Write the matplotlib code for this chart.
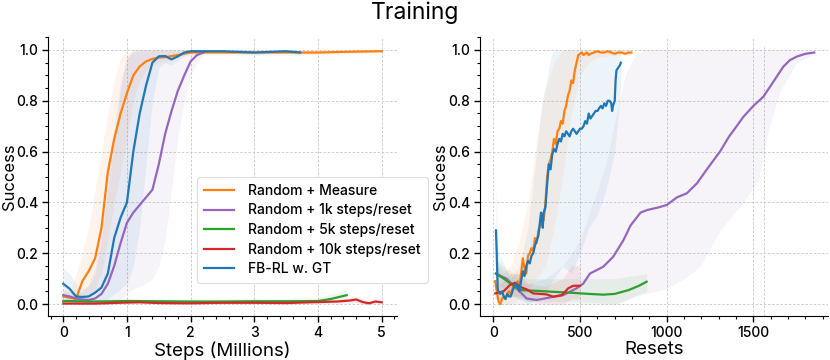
import matplotlib
matplotlib.use("Agg")
import matplotlib.pyplot as plt
from matplotlib.ticker import MultipleLocator

plt.rcParams['font.family'] = ['Inter', 'DejaVu Sans']
plt.rcParams['font.weight'] = 'medium'

# ---------------- colours / labels ----------------
labels = ["Random + Measure", "Random + 1k steps/reset", "Random + 5k steps/reset",
          "Random + 10k steps/reset", "FB-RL w. GT"]
colors = ["#ff7f0e", "#9467bd", "#2ca02c", "#d62728", "#1f77b4"]

# ---------------- LEFT: Steps (Millions) ----------------
orange_L_x = [0, 0.1, 0.2, 0.3, 0.4, 0.5, 0.6, 0.7, 0.8, 0.9, 1.0, 1.1, 1.2, 1.3, 1.4, 1.5, 1.6, 1.8, 2.0, 2.2, 2.5, 3.0, 3.5, 4.0, 4.5, 5.0]
orange_L_y = [0.03, 0.025, 0.02, 0.09, 0.13, 0.18, 0.30, 0.52, 0.65, 0.75, 0.83, 0.90, 0.935, 0.955, 0.965, 0.97, 0.972, 0.98, 0.99, 0.99, 0.99, 0.99, 0.99, 0.99, 0.993, 0.995]
orange_L_up = [0.05, 0.05, 0.12, 0.2, 0.3, 0.45, 0.6, 0.75, 0.88, 0.97, 0.99, 1.0, 1.0, 1.0, 1.0, 1.0, 1.0, 1.0, 1.0, 1.0, 1.0, 1.0, 1.0, 1.0, 1.0, 1.0]
orange_L_lo = [0.01, 0.01, 0.01, 0.02, 0.03, 0.06, 0.12, 0.25, 0.4, 0.52, 0.65, 0.8, 0.88, 0.92, 0.94, 0.95, 0.955, 0.97, 0.98, 0.98, 0.98, 0.98, 0.98, 0.98, 0.985, 0.99]

purple_L_x = [0, 0.1, 0.2, 0.3, 0.4, 0.5, 0.6, 0.7, 0.8, 0.9, 1.0, 1.1, 1.2, 1.3, 1.4, 1.5, 1.6, 1.7, 1.8, 1.9, 2.0, 2.1, 2.2]
purple_L_y = [0.035, 0.03, 0.022, 0.018, 0.016, 0.022, 0.04, 0.08, 0.15, 0.24, 0.32, 0.36, 0.39, 0.42, 0.45, 0.55, 0.67, 0.76, 0.84, 0.90, 0.955, 0.98, 0.99]
purple_L_up = [0.06, 0.05, 0.04, 0.05, 0.08, 0.15, 0.3, 0.5, 0.7, 0.88, 0.97, 0.99, 1.0, 1.0, 1.0, 1.0, 1.0, 1.0, 1.0, 1.0, 1.0, 1.0, 1.0]
purple_L_lo = [0.01, 0.005, 0.0, 0.0, 0.0, 0.0, 0.0, 0.0, 0.01, 0.02, 0.04, 0.06, 0.07, 0.08, 0.1, 0.15, 0.25, 0.45, 0.65, 0.8, 0.9, 0.95, 0.98]

green_L_x = [0, 0.5, 1.0, 1.5, 2.0, 2.5, 3.0, 3.5, 4.0, 4.2, 4.45]
green_L_y = [0.012, 0.01, 0.012, 0.011, 0.01, 0.01, 0.011, 0.011, 0.012, 0.02, 0.035]
green_L_up = [0.02, 0.018, 0.022, 0.02, 0.02, 0.022, 0.022, 0.022, 0.025, 0.04, 0.055]
green_L_lo = [0.004, 0.003, 0.004, 0.004, 0.003, 0.003, 0.004, 0.004, 0.004, 0.006, 0.015]

red_L_x = [0, 0.5, 1.0, 1.2, 1.5, 2.0, 2.5, 3.0, 3.5, 4.0, 4.3, 4.5, 4.6, 4.7, 4.8, 4.9, 5.0]
red_L_y = [0.002, 0.002, 0.006, 0.007, 0.004, 0.003, 0.005, 0.005, 0.004, 0.008, 0.010, 0.014, 0.018, 0.008, 0.003, 0.010, 0.007]
red_L_up = [0.006, 0.006, 0.012, 0.013, 0.009, 0.008, 0.01, 0.01, 0.009, 0.014, 0.018, 0.025, 0.03, 0.018, 0.01, 0.022, 0.015]
red_L_lo = [0.0, 0.0, 0.001, 0.002, 0.0, 0.0, 0.0, 0.0, 0.0, 0.002, 0.003, 0.004, 0.006, 0.0, 0.0, 0.0, 0.0]

blue_L_x = [0, 0.1, 0.2, 0.3, 0.4, 0.5, 0.6, 0.7, 0.8, 0.9, 1.0, 1.1, 1.2, 1.3, 1.4, 1.5, 1.6, 1.7, 1.8, 1.9, 2.0, 2.2, 2.5, 3.0, 3.5, 3.72]
blue_L_y = [0.08, 0.06, 0.03, 0.028, 0.03, 0.045, 0.065, 0.12, 0.26, 0.34, 0.40, 0.60, 0.75, 0.86, 0.95, 0.975, 0.976, 0.963, 0.975, 0.99, 0.995, 0.995, 0.995, 0.99, 0.995, 0.99]
blue_L_up = [0.14, 0.12, 0.08, 0.06, 0.07, 0.12, 0.25, 0.45, 0.65, 0.85, 0.97, 1.0, 1.0, 1.0, 1.0, 1.0, 1.0, 1.0, 1.0, 1.0, 1.0, 1.0, 1.0, 1.0, 1.0, 1.0]
blue_L_lo = [0.03, 0.01, 0.0, 0.0, 0.0, 0.0, 0.01, 0.02, 0.04, 0.06, 0.08, 0.15, 0.3, 0.55, 0.8, 0.93, 0.95, 0.94, 0.96, 0.98, 0.99, 0.99, 0.99, 0.98, 0.99, 0.98]

# ---------------- RIGHT: Resets ----------------
orange_R_x = [10, 20, 30, 40, 50, 60, 70, 80, 90, 100, 110, 120, 130, 140, 150, 160, 170, 180, 190, 200,
              210, 220, 230, 240, 250, 260, 270, 280, 290, 300, 310, 320, 330, 340, 350, 360, 370, 380, 390, 400,
              410, 420, 430, 440, 450, 460, 470, 480, 490, 500, 510, 520, 530, 540, 550, 560, 580, 600, 620, 640,
              660, 680, 700, 720, 740, 760, 780, 796]
orange_R_y = [0.09, 0.05, 0.01, 0.0, 0.02, 0.03, 0.02, 0.04, 0.05, 0.04, 0.06, 0.08, 0.06, 0.09, 0.07, 0.12, 0.18, 0.14, 0.12, 0.19,
              0.20, 0.22, 0.21, 0.26, 0.24, 0.29, 0.31, 0.35, 0.33, 0.39, 0.50, 0.55, 0.57, 0.60, 0.65, 0.63, 0.68, 0.69, 0.72, 0.71,
              0.76, 0.78, 0.82, 0.84, 0.88, 0.87, 0.92, 0.95, 0.98, 0.985, 0.99, 0.98, 0.985, 0.99, 0.98, 0.985, 0.99, 0.995, 0.99, 0.99,
              0.995, 0.99, 0.985, 0.99, 0.99, 0.985, 0.99, 0.99]
orange_R_bx = [10, 50, 100, 150, 200, 250, 300, 350, 400, 450, 500, 550, 600, 700, 796]
orange_R_up = [0.2, 0.12, 0.15, 0.25, 0.4, 0.65, 0.85, 0.95, 1.0, 1.0, 1.0, 1.0, 1.0, 1.0, 1.0]
orange_R_lo = [0.02, 0.0, 0.0, 0.02, 0.05, 0.1, 0.15, 0.3, 0.5, 0.75, 0.9, 0.95, 0.97, 0.98, 0.98]

purple_R_x = [15, 76, 134, 192, 249, 326, 403, 480, 518, 557, 634, 691, 749, 792, 849, 887, 950, 1000, 1059, 1116,
              1174, 1231, 1307, 1360, 1403, 1442, 1500, 1557, 1610, 1672, 1710, 1750, 1800, 1851]
purple_R_y = [0.12, 0.10, 0.062, 0.022, 0.016, 0.026, 0.035, 0.062, 0.08, 0.12, 0.147, 0.186, 0.25, 0.31, 0.36, 0.37, 0.38, 0.39, 0.42, 0.436,
              0.475, 0.53, 0.60, 0.66, 0.70, 0.737, 0.78, 0.816, 0.87, 0.934, 0.96, 0.974, 0.985, 0.99]
purple_R_bx = [15, 100, 200, 300, 400, 450, 500, 550, 600, 650, 700, 760, 820, 870, 1000, 1100, 1192, 1307, 1442, 1529, 1586, 1654, 1750, 1851]
purple_R_up = [0.15, 0.12, 0.08, 0.1, 0.15, 0.2, 0.25, 0.35, 0.45, 0.55, 0.72, 0.9, 0.98, 1.0, 1.0, 1.0, 1.0, 1.0, 1.0, 1.0, 1.0, 1.0, 1.0, 0.995]
purple_R_lo = [0.08, 0.04, 0.0, 0.0, 0.0, 0.0, 0.0, 0.0, 0.0, 0.0, 0.0, 0.01, 0.03, 0.04, 0.062, 0.1, 0.147, 0.29, 0.40, 0.49, 0.685, 0.84, 0.95, 0.985]

green_R_x = [15, 60, 120, 160, 250, 350, 441, 550, 634, 700, 780, 840, 884]
green_R_y = [0.12, 0.10, 0.07, 0.055, 0.052, 0.048, 0.045, 0.04, 0.037, 0.04, 0.055, 0.072, 0.088]
green_R_bx = [15, 100, 200, 500, 700, 884]
green_R_up = [0.17, 0.13, 0.1, 0.1, 0.1, 0.12]
green_R_lo = [0.07, 0.03, 0.01, 0.01, 0.0, 0.05]

red_R_x = [11, 57, 96, 125, 153, 192, 230, 307, 345, 394, 432, 461, 499]
red_R_y = [0.042, 0.049, 0.075, 0.084, 0.068, 0.058, 0.042, 0.038, 0.029, 0.035, 0.062, 0.072, 0.072]
red_R_bx = [11, 100, 150, 200, 300, 400, 450, 499]
red_R_up = [0.06, 0.12, 0.12, 0.08, 0.07, 0.1, 0.15, 0.15]
red_R_lo = [0.02, 0.03, 0.03, 0.01, 0.0, 0.0, 0.02, 0.02]

blue_R_x = [15, 20, 25, 30, 40, 50, 60, 70, 80, 90, 100, 110, 120, 130, 140, 150, 160, 170, 180, 190,
            200, 210, 220, 230, 240, 250, 260, 270, 275, 280, 285, 290, 300, 310, 320, 330, 340, 350, 360, 370,
            380, 390, 400, 410, 420, 430, 440, 450, 460, 470, 480, 490, 500, 510, 520, 530, 540, 550, 560, 570,
            580, 590, 600, 610, 620, 630, 640, 650, 660, 670, 680, 685, 690, 700, 705, 710, 720, 730, 735]
blue_R_y = [0.29, 0.19, 0.06, 0.05, 0.04, 0.05, 0.03, 0.02, 0.04, 0.03, 0.03, 0.05, 0.07, 0.08, 0.07, 0.05, 0.09, 0.13, 0.11, 0.15,
            0.17, 0.16, 0.19, 0.20, 0.23, 0.25, 0.27, 0.33, 0.36, 0.34, 0.30, 0.36, 0.38, 0.47, 0.55, 0.53, 0.59, 0.61, 0.60, 0.63,
            0.65, 0.64, 0.67, 0.66, 0.68, 0.67, 0.66, 0.68, 0.69, 0.68, 0.67, 0.68, 0.69, 0.69, 0.70, 0.72, 0.71, 0.75, 0.73, 0.74,
            0.75, 0.76, 0.76, 0.77, 0.78, 0.77, 0.79, 0.78, 0.80, 0.80, 0.79, 0.76, 0.78, 0.80, 0.88, 0.92, 0.93, 0.94, 0.95]
blue_R_bx = [15, 30, 100, 150, 200, 250, 280, 300, 330, 350, 400, 450, 500, 550, 600, 650, 700, 735]
blue_R_up = [0.45, 0.2, 0.1, 0.15, 0.3, 0.6, 0.8, 0.85, 0.97, 1.0, 1.0, 1.0, 1.0, 1.0, 1.0, 1.0, 1.0, 1.0]
blue_R_lo = [0.1, 0.0, 0.0, 0.0, 0.0, 0.02, 0.04, 0.05, 0.08, 0.1, 0.15, 0.12, 0.2, 0.3, 0.35, 0.45, 0.6, 0.85]

extra_grid_x = 1558

# ---------------- figure ----------------
fig = plt.figure(figsize=(8.3, 3.6), dpi=100)
axL = fig.add_axes([0.0578, 0.1222, 0.4205, 0.775])
axR = fig.add_axes([0.5783, 0.1222, 0.4193, 0.775])

left_series = [
    (orange_L_x, orange_L_y, orange_L_x, orange_L_lo, orange_L_up),
    (purple_L_x, purple_L_y, purple_L_x, purple_L_lo, purple_L_up),
    (green_L_x, green_L_y, green_L_x, green_L_lo, green_L_up),
    (red_L_x, red_L_y, red_L_x, red_L_lo, red_L_up),
    (blue_L_x, blue_L_y, blue_L_x, blue_L_lo, blue_L_up),
]
right_series = [
    (orange_R_x, orange_R_y, orange_R_bx, orange_R_lo, orange_R_up),
    (purple_R_x, purple_R_y, purple_R_bx, purple_R_lo, purple_R_up),
    (green_R_x, green_R_y, green_R_bx, green_R_lo, green_R_up),
    (red_R_x, red_R_y, red_R_bx, red_R_lo, red_R_up),
    (blue_R_x, blue_R_y, blue_R_bx, blue_R_lo, blue_R_up),
]

for ax, series in ((axL, left_series), (axR, right_series)):
    for (x, y, bx, lo, up), c in zip(series, colors):
        ax.fill_between(bx, lo, up, color=c, alpha=0.08, linewidth=0)
    for (x, y, bx, lo, up), c, lab in zip(series, colors, labels):
        ax.plot(x, y, color=c, lw=1.6, label=lab)

axL.set_xlim(-0.24, 5.24)
axR.set_xlim(-77, 1930)
for ax in (axL, axR):
    ax.set_ylim(-0.047, 1.051)
    ax.yaxis.set_major_locator(MultipleLocator(0.2))
    ax.yaxis.set_minor_locator(MultipleLocator(0.05))
    ax.grid(True, which='major', ls=(0, (3, 2)), color='#c8c8c8', lw=0.6)
    ax.set_axisbelow(True)
    ax.spines['top'].set_visible(False)
    ax.spines['right'].set_visible(False)
    ax.tick_params(which='major', length=4, width=1, labelsize=10, pad=3)
    ax.tick_params(which='minor', length=2, width=0.8)
    ax.set_ylabel("Success", fontsize=12)

axL.yaxis.set_label_coords(-0.09, 0.5)
axR.yaxis.set_label_coords(-0.093, 0.5)

axL.xaxis.set_major_locator(MultipleLocator(1))
axL.xaxis.set_minor_locator(MultipleLocator(0.2))
axR.xaxis.set_major_locator(MultipleLocator(500))
axR.xaxis.set_minor_locator(MultipleLocator(100))
axR.axvline(extra_grid_x, ymin=0, ymax=0.97, ls=(0, (3, 2)), color='#c8c8c8', lw=0.6, zorder=0)

axL.set_xlabel("Steps (Millions)", fontsize=13.5, labelpad=1)
axR.set_xlabel("Resets", fontsize=13.5, labelpad=1)

fig.suptitle("Training", fontsize=16.5, y=0.995)

leg = axL.legend(loc='upper left', bbox_to_anchor=(190 / 830, 1 - 170 / 360),
                 bbox_transform=fig.transFigure, fontsize=10, frameon=True,
                 fancybox=True, framealpha=1.0, edgecolor='#dddddd',
                 handlelength=2.2, handletextpad=1.0, labelspacing=0.4, borderpad=0.5)
leg.get_frame().set_linewidth(0.8)

fig.savefig("out.png", dpi=100)
